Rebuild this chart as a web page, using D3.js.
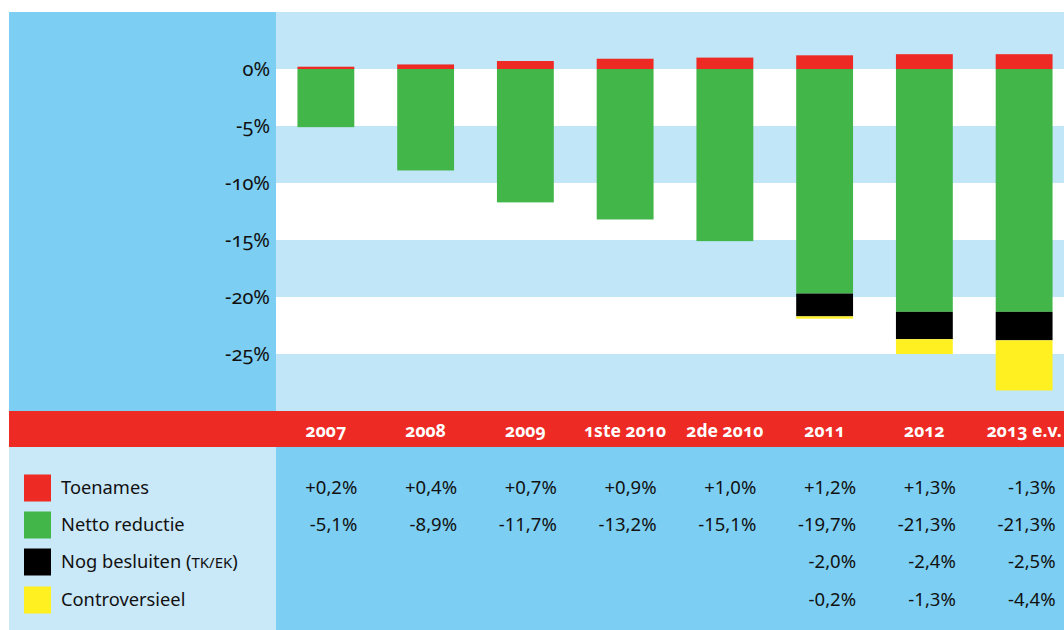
<!doctype html>
<html lang="nl">
  <head>
    <meta charset="UTF-8" />
    <title>Toenames en reductie</title>
    <script src="https://d3js.org/d3.v7.min.js"></script>
    <style>
      body {
        margin: 0;
        background: #fff;
        font-family: 'Noto Sans', 'Open Sans', sans-serif;
      }
      svg {
        display: block;
      }
      .tick-label {
        font-size: 20px;
        fill: #111;
        font-feature-settings: 'onum';
      }
      .year {
        font-size: 17.5px;
        font-weight: bold;
        fill: #fff;
        font-feature-settings: 'onum';
      }
      .legend-label {
        font-size: 18.3px;
        fill: #111;
      }
      .cell {
        font-size: 18.5px;
        fill: #111;
      }
    </style>
  </head>
  <body>
    <svg id="chart"></svg>
    <script>
      const W = 1064
      const H = 630

      // data
      const periods = ['2007', '2008', '2009', '1ste 2010', '2de 2010', '2011', '2012', '2013 e.v.']
      const toenames = [0.2, 0.4, 0.7, 0.9, 1.0, 1.2, 1.3, 1.3]
      const nettoReductie = [-5.1, -8.9, -11.7, -13.2, -15.1, -19.7, -21.3, -21.3]
      const nogBesluiten = [null, null, null, null, null, -2.0, -2.4, -2.5]
      const controversieel = [null, null, null, null, null, -0.2, -1.3, -4.4]
      // table text as printed (2013 toename is printed with a minus sign)
      const toenamesText = ['+0,2%', '+0,4%', '+0,7%', '+0,9%', '+1,0%', '+1,2%', '+1,3%', '-1,3%']
      const yTicks = [0, -5, -10, -15, -20, -25]
      const bands = [5, 0, -5, -10, -15, -20, -25]

      const seriesNames = ['Toenames', 'Netto reductie', 'Nog besluiten', 'Controversieel']
      const colors = ['#ee2a24', '#43b649', '#000000', '#fff022']

      const svg = d3.select('#chart').attr('width', W).attr('height', H)

      const plotLeft = 276
      const plotTop = 12
      const plotBottom = 411

      const x = d3
        .scaleBand()
        .domain(periods)
        .range([plotLeft, 1074])
        .paddingInner(0.43)
        .paddingOuter(0.215)

      const y = d3.scaleLinear().domain([5, -30]).range([plotTop, plotBottom])

      // panels
      svg.append('rect').attr('x', 9).attr('y', plotTop).attr('width', plotLeft - 9).attr('height', plotBottom - plotTop).attr('fill', '#7ccef2')

      svg
        .append('g')
        .selectAll('rect')
        .data(bands)
        .join('rect')
        .attr('x', plotLeft)
        .attr('width', W - plotLeft)
        .attr('y', (d) => y(d))
        .attr('height', (d) => y(d - 5) - y(d))
        .attr('fill', (d, i) => (i % 2 === 0 ? '#c0e6f8' : '#ffffff'))

      // table area
      svg.append('rect').attr('x', 9).attr('y', 447).attr('width', plotLeft - 9).attr('height', H - 447).attr('fill', '#c9e8f8')
      svg.append('rect').attr('x', plotLeft).attr('y', 447).attr('width', W - plotLeft).attr('height', H - 447).attr('fill', '#7ccef2')

      // header strip
      svg.append('rect').attr('x', 9).attr('y', plotBottom).attr('width', W - 9).attr('height', 36).attr('fill', '#ee2a24')

      // y tick labels
      svg
        .append('g')
        .selectAll('text')
        .data(yTicks)
        .join('text')
        .attr('class', 'tick-label')
        .attr('x', 270)
        .attr('y', (d) => y(d))
        .attr('dy', '0.35em')
        .attr('text-anchor', 'end')
        .text((d) => d + '%')

      // stacked segments
      const segments = []
      periods.forEach((p, i) => {
        segments.push({ p, s: 0, y0: 0, y1: toenames[i] })
        let base = nettoReductie[i]
        segments.push({ p, s: 1, y0: 0, y1: base })
        if (nogBesluiten[i] != null) {
          segments.push({ p, s: 2, y0: base, y1: base + nogBesluiten[i] })
          base += nogBesluiten[i]
        }
        if (controversieel[i] != null) {
          segments.push({ p, s: 3, y0: base, y1: base + controversieel[i] })
        }
      })

      svg
        .append('g')
        .selectAll('rect')
        .data(segments)
        .join('rect')
        .attr('x', (d) => x(d.p))
        .attr('width', x.bandwidth())
        .attr('y', (d) => y(Math.max(d.y0, d.y1)))
        .attr('height', (d) => Math.abs(y(d.y1) - y(d.y0)))
        .attr('fill', (d) => colors[d.s])

      // year headers
      svg
        .append('g')
        .selectAll('text')
        .data(periods)
        .join('text')
        .attr('class', 'year')
        .attr('x', (d) => x(d) + x.bandwidth() / 2)
        .attr('y', 437)
        .attr('text-anchor', 'middle')
        .text((d) => d)

      // legend
      const rowY = [488, 525, 562, 600]
      const legend = svg
        .append('g')
        .selectAll('g')
        .data(seriesNames)
        .join('g')
        .attr('transform', (d, i) => `translate(24,${rowY[i]})`)

      legend
        .append('rect')
        .attr('y', -13.5)
        .attr('width', 27)
        .attr('height', 27)
        .attr('fill', (d, i) => colors[i])

      legend.each(function (d, i) {
        const t = d3
          .select(this)
          .append('text')
          .attr('class', 'legend-label')
          .attr('x', 37)
          .attr('dy', '0.35em')
          .text(d)
        if (i === 2) {
          t.append('tspan').text(' (')
          t.append('tspan').style('font-size', '15px').text('TK/EK')
          t.append('tspan').text(')')
        }
      })

      // table values
      const fmt = (v) => (v == null ? '' : (v > 0 ? '+' : '') + v.toFixed(1).replace('.', ',') + '%')
      const rows = [
        toenamesText,
        nettoReductie.map(fmt),
        nogBesluiten.map(fmt),
        controversieel.map(fmt),
      ]

      rows.forEach((row, r) => {
        svg
          .append('g')
          .selectAll('text')
          .data(row)
          .join('text')
          .attr('class', 'cell')
          .attr('x', (d, i) => x(periods[i]) + x.bandwidth() + 3)
          .attr('y', rowY[r])
          .attr('dy', '0.35em')
          .attr('text-anchor', 'end')
          .text((d) => d)
      })
    </script>
  </body>
</html>
